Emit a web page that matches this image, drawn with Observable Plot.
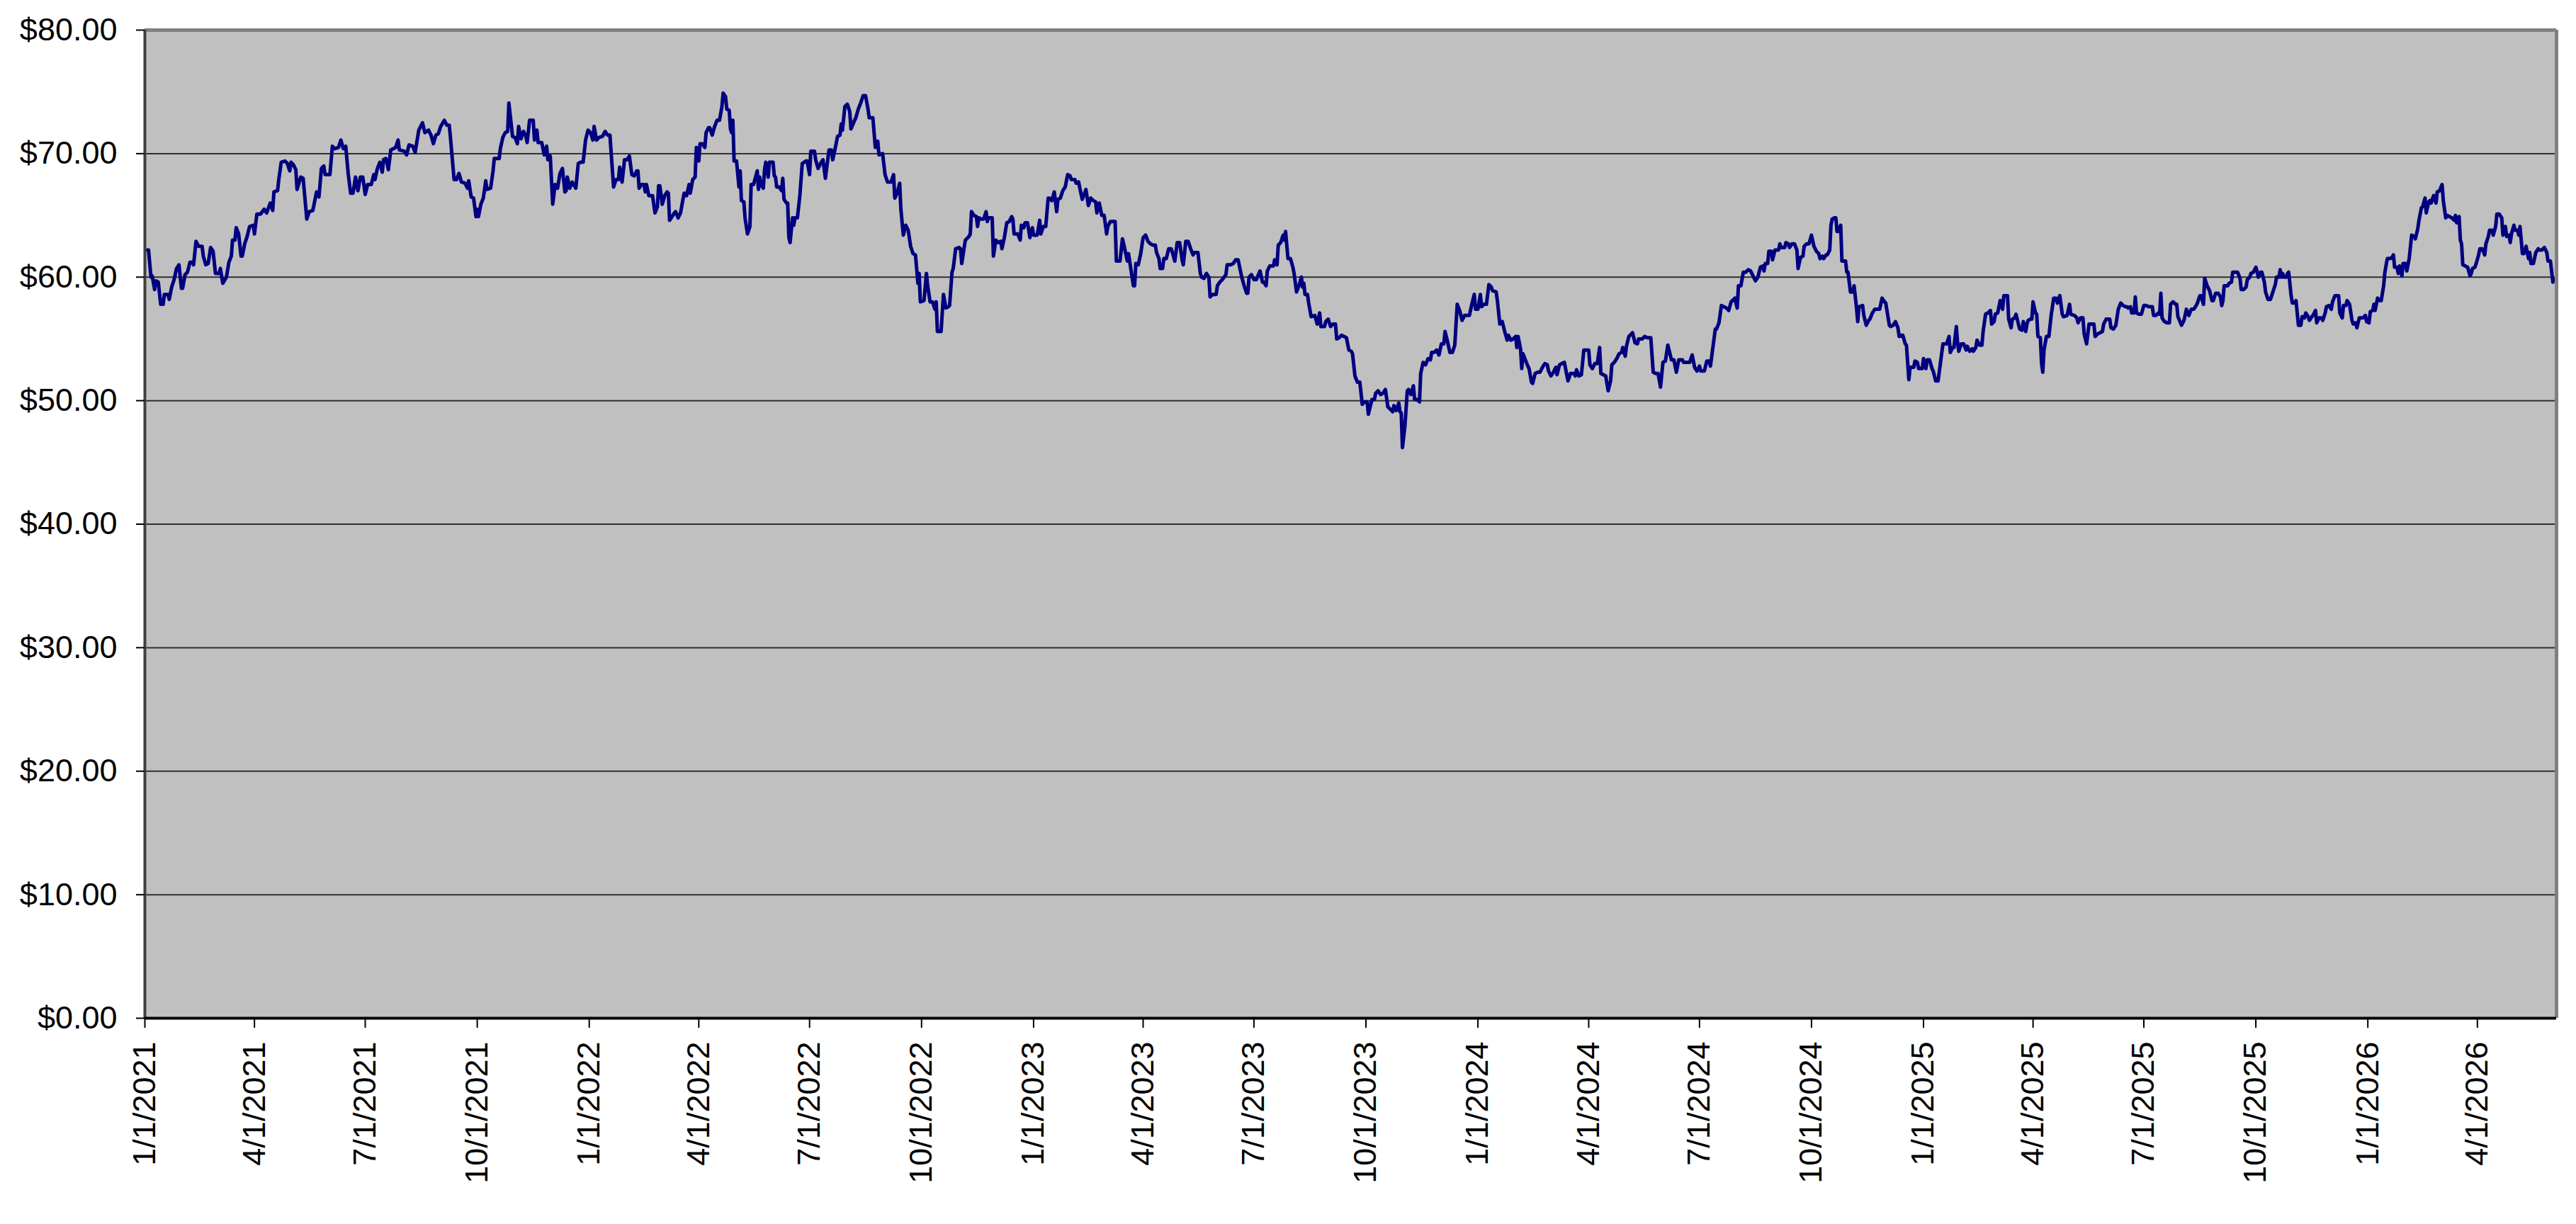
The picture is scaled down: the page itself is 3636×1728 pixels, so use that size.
<!DOCTYPE html>
<html>
<head>
<meta charset="utf-8">
<script src="https://cdn.jsdelivr.net/npm/d3@7"></script>
<script src="https://cdn.jsdelivr.net/npm/@observablehq/plot@0.6"></script>
<style>
  html, body { margin: 0; padding: 0; background: #ffffff; }
  #chart svg { display: block; }
</style>
</head>
<body>
<div id="chart"></div>
<script>
// ---- data ----
const startDate = "2021-01-01";           // day 0 of the series
const xTickLabels = ["1/1/2021","4/1/2021","7/1/2021","10/1/2021","1/1/2022","4/1/2022","7/1/2022","10/1/2022",
  "1/1/2023","4/1/2023","7/1/2023","10/1/2023","1/1/2024","4/1/2024","7/1/2024","10/1/2024",
  "1/1/2025","4/1/2025","7/1/2025","10/1/2025","1/1/2026","4/1/2026"];
const yTicks = [0, 10, 20, 30, 40, 50, 60, 70, 80];

// day offsets from startDate and prices, segment 1 (Jan 2021 - Feb 2022)
const days1 = [2,3,5,6,8,9,11,13,15,16, 19,20,22,24,26,28,30,31,33,35, 37,39,40,42,44,47,48,50,52,54,
  56,58,61,62,64,67,69,71,72,74, 75,77,79,80,82,84,86,89,90,92, 95,98,100,103,105,106,109,110,112,115,
  117,119,120,122,124,125,128,130,133,135, 138,141,143,145,147,148,152,154,156,159,
  161,163,165,167,169,171,173,175,177,179, 181,183,186,188,189,191,193,195,196,198,
  200,202,204,206,208,209,213,215,217,220, 222,225,228,230,233,235,237,239,241,243,
  246,248,250,251,254,256,258,260,263,265, 266,268,270,272,273,274,276,278,280,281,
  284,286,287,291,292,294,296,298,299,300, 302,304,306,307,309,311,313,314,316,319,
  320,322,323,326,328,330,331,333,335,337, 339,341,343,345,346,347,349,351,354,356,
  358,360,362,364,366,368,369,371,373,376, 378,380,382,385,387,389,390,392,394,396,
  398,400,402,404];
const prices1 = [62.2,62.2,60.0,60.1,59.0,59.7,59.6,57.8,57.8,58.6, 58.6,58.2,59.2,59.8,60.7,61.0,59.1,59.1,60.2,60.4,
  61.2,61.2,61.0,62.9,62.5,62.5,61.7,61.0,61.1,62.4, 62.1,60.3,60.3,60.7,59.5,60.0,61.2,61.7,63.0,63.0,
  64.0,63.5,61.7,61.7,62.7,63.3,64.1,64.2,63.5,65.1, 65.1,65.5,65.2,66.0,65.4,66.9,67.0,67.9,69.3,69.4,
  69.2,68.6,69.3,69.1,68.7,67.1,68.1,68.0,64.7,65.3, 65.4,66.9,66.5,68.8,69.0,68.3,68.3,70.6,70.4,70.5,
  71.1,70.4,70.6,68.4,66.8,66.8,68.1,67.0,68.1,68.1, 66.7,67.5,67.5,68.3,67.9,68.8,69.3,68.5,69.5,69.6,
  68.7,70.3,70.4,70.5,71.1,70.3,70.2,69.9,70.7,70.6, 70.1,71.9,72.5,71.7,71.9,71.5,70.8,71.5,71.6,72.2,
  72.7,72.3,72.3,71.3,67.9,67.9,68.4,67.7,67.6,67.2, 67.8,66.5,66.4,64.9,65.5,64.9,65.9,66.4,67.8,67.1,
  67.2,68.6,69.6,69.6,70.4,71.3,71.7,71.8,74.1,73.2, 71.4,71.3,70.8,72.2,71.2,71.8,71.4,70.9,72.7,72.7,
  71.1,71.9,70.9,70.9,69.9,70.6,69.5,69.8,65.9,67.5, 67.2,68.4,68.8,66.9,67.0,68.1,67.2,67.7,67.2,69.2,
  69.3,69.3,71.1,71.9,71.7,71.1,72.2,71.1,71.3,71.4, 71.8,71.5,71.5,67.3,67.9,67.9,68.9,67.7,69.5,69.5,
  69.8,68.3,68.2,68.6];

// segment 2 (Feb 2022 - Mar 2023)
const days2 = [405,406,408,410,411,412,414,417,419,421, 422,423,425,427,429,430,431,433,435,436,
  438,440,442,443,445,447,448,450,452,453, 455,456,458,460,461,463,464,466,468,470,
  472,474,475,477,478,480,481,482,483,484, 486,488,489,490,492,493,495,497,498,500,
  503,504,505,506,508,509,510,512,513,516, 517,518,519,521,523,524,525,527,528,529,
  530,532,533,534,536,538,540,543,544,546, 547,550,551,553,555,557,559,560,562,564,
  565,567,569,571,572,573,575,577,579,580, 583,584,586,588,590,592,594,595,598,600,
  602,603,606,608,610,613,615,616,618,620, 621,623,625,627,629,631,633,635,636,637,
  640,642,643,645,647,649,650,651,654,656, 658,660,661,663,664,666,669,670,671,673,
  674,677,678,679,681,683,684,685,687,689, 691,692,693,696,697,699,701,703,704,706,
  708,710,712,713,714,717,719,720,722,723, 725,727,729,730,733,735,736,738,740,742,
  743,745,747,749,750,752,754,756,758,760, 761,764,765,767,768,770,772,773,775,777,
  779,781,782,784,786,788,790,791,793,795, 797,798,801,803,804,807,808,810,812];
const prices2 = [68.6,67.2,67.5,67.5,66.9,67.5,66.6,66.6,65.2,65.7, 67.4,67.4,65.9,66.6,66.9,66.8,64.6,64.9,65.2,65.3,
  64.8,65.2,66.3,66.8,66.6,67.5,66.8,67.9,68.1,70.5, 69.4,70.8,70.8,70.5,71.7,72.1,72.1,71.5,72.2,72.7,
  72.7,73.8,74.9,74.6,73.6,73.5,72.0,71.7,72.7,69.4, 69.4,67.3,68.6,66.2,66.1,64.8,63.5,64.1,67.5,67.5,
  68.6,67.1,68.1,67.5,67.2,68.7,69.3,68.1,69.3,69.3, 68.2,68.1,67.3,67.3,67.0,68.0,66.3,66.0,66.0,63.2,
  62.8,64.8,64.2,64.8,64.8,66.6,69.2,69.4,69.4,68.3, 70.2,70.2,69.5,68.8,69.2,69.5,68.0,68.8,70.3,70.3,
  69.5,70.4,71.4,71.5,72.4,71.9,73.8,74.0,73.4,72.0, 72.7,72.9,73.6,74.1,74.7,74.7,73.6,72.9,72.9,70.5,
  71.0,69.9,70.0,68.3,67.7,67.7,68.3,66.4,66.8,67.6, 65.5,63.4,64.2,63.8,62.5,61.9,61.8,59.5,60.3,58.0,
  58.1,60.3,59.3,58.0,58.0,57.4,58.0,55.6,55.6,58.6, 57.5,57.6,57.7,60.4,60.7,62.3,62.4,62.3,61.1,62.4,
  63.0,63.3,63.5,65.3,65.0,64.9,64.1,64.8,64.7,64.7, 65.3,64.5,64.8,64.8,61.7,63.0,62.8,62.9,62.3,63.2,
  64.4,64.5,64.9,64.7,63.5,63.5,63.0,64.2,64.0,64.4, 64.4,63.2,64.0,63.4,63.4,64.6,63.5,64.1,64.1,66.4,
  66.4,66.2,66.9,65.3,66.3,66.4,67.0,67.3,68.3,68.2, 67.9,67.9,67.6,67.7,67.2,66.3,66.8,67.1,65.8,66.4,
  66.2,66.1,65.2,66.0,65.0,65.0,63.5,64.1,64.5,64.5, 64.5,61.3,61.3,63.1,62.7,61.3,61.9,60.6,59.3];

// segment 3 (Mar 2023 - May 2024)
const days3 = [813,814,816,818,820,822,824,826,828,830, 831,833,834,836,837,839,841,843,844,846,
  848,850,852,853,855,857,859,861,862,865, 867,868,870,872,874,875,877,880,881,883,
  885,888,889,892,894,896,898,901,903,905, 906,907,909,911,913,916,918,919,921,922,
  924,927,928,930,931,933,935,936,937,939, 941,943,944,946,948,950,951,952,953,955,
  956,958,961,963,965,966,969,970,972,974, 976,978,979,981,983,985,987,989,991,992,
  994,996,998,1000,1002,1004,1005,1008,1010,1011, 1013,1015,1017,1019,1021,1023,1025,1026,1028,1030,
  1031,1032,1033,1035,1037,1038,1040,1042,1043,1045, 1047,1048,1050,1052,1054,1056,1057,1059,1061,1063,
  1065,1067,1068,1070,1072,1074,1076,1078,1080,1082, 1084,1086,1088,1090,1092,1093,1095,1097,1098,1100,
  1102,1104,1106,1107,1110,1111,1113,1115,1117,1119, 1120,1122,1124,1126,1127,1128,1130,1131,1132,1134,
  1136,1137,1139,1140,1142,1144,1146,1148,1150,1152, 1153,1155,1157,1159,1160,1162,1164,1166,1167,1169,
  1171,1174,1175,1176,1178,1180,1182,1184,1186,1187, 1189,1191,1193,1195,1196,1198,1200,1202,1204,1205,
  1207,1209,1211,1213,1214,1216,1217,1219];
const prices3 = [59.3,61.1,61.0,61.9,63.2,63.4,62.9,62.7,62.6,62.6, 62.0,61.5,60.7,60.7,61.5,61.5,62.3,62.3,62.0,61.3,
  62.8,62.8,61.4,61.0,62.9,62.9,62.3,61.8,62.0,62.0, 60.3,60.0,59.9,60.3,60.0,58.4,58.6,58.6,59.3,59.6,
  59.8,60.2,61.0,61.0,61.1,61.4,61.4,60.0,59.3,58.7, 58.7,60.0,60.2,59.8,59.8,60.5,59.6,59.6,59.3,60.5,
  60.9,60.9,61.4,61.0,62.6,62.8,63.4,63.0,63.7,61.5, 61.5,60.8,60.3,58.8,59.3,60.0,59.2,59.5,58.6,58.6,
  57.9,56.8,56.9,56.2,57.1,56.0,56.0,56.4,56.6,56.0, 56.2,56.2,55.0,55.1,55.3,55.2,55.1,54.1,54.0,53.8,
  52.0,51.5,51.5,49.7,49.9,49.9,48.9,50.1,50.1,50.6, 50.8,50.5,50.6,50.9,49.5,49.3,49.1,49.6,49.2,49.8,
  49.1,49.0,46.2,47.9,50.8,50.9,50.5,51.2,50.1,50.1, 49.9,52.2,53.1,52.9,53.4,53.3,53.9,53.9,54.1,53.7,
  54.6,54.6,55.6,54.8,53.9,53.9,54.5,57.8,57.3,56.5, 56.9,56.9,56.9,57.8,58.6,57.4,57.4,58.6,57.6,57.8,
  57.8,59.4,59.2,58.9,58.8,58.1,56.2,56.4,55.6,54.9, 55.3,54.9,55.0,55.2,54.3,55.2,54.2,52.6,53.8,53.3,
  52.8,52.6,51.5,51.4,52.2,52.3,52.3,52.7,53.0,52.9, 52.4,52.0,52.3,52.7,52.1,52.9,53.0,53.1,52.6,51.6,
  52.2,52.2,52.0,52.5,52.0,52.1,54.1,54.1,54.1,52.9, 52.6,53.0,53.0,54.3,52.2,52.1,52.0,50.8,51.6,52.9,
  53.1,53.4,53.8,53.9,54.3,53.6,54.4,55.2];

// segment 4 (May 2024 - Jun 2025)
const days4 = [1220,1222,1224,1226,1227,1230,1232,1234,1237,1239, 1241,1243,1245,1247,1249,1251,1252,1254,1256,1258,
  1260,1263,1264,1267,1269,1271,1273,1275,1277,1278, 1281,1283,1285,1286,1288,1290,1291,1293,1295,1297,
  1299,1301,1303,1304,1306,1308,1309,1311,1313,1315, 1317,1319,1321,1323,1325,1327,1329,1330,1331,1333,
  1334,1336,1337,1339,1342,1343,1344,1347,1348,1350, 1351,1353,1355,1357,1358,1360,1362,1363,1365,1367,
  1369,1371,1373,1375,1376,1378,1379,1381,1382,1384, 1385,1386,1388,1389,1390,1391,1393,1394,1397,1398,
  1399,1401,1403,1404,1406,1407,1408,1411,1412,1414, 1416,1417,1419,1421,1424,1425,1427,1429,1430,1433,
  1434,1436,1438,1440,1441,1443,1444,1446,1447,1449, 1450,1453,1454,1456,1457,1460,1461,1463,1464,1466,
  1468,1469,1471,1473,1475,1477,1479,1480,1482,1483, 1485,1486,1488,1489,1490,1492,1494,1496,1497,1499,
  1501,1502,1504,1505,1507,1509,1510,1512,1514,1516, 1517,1519,1520,1522,1523,1524,1526,1527,1530,1531,
  1533,1534,1536,1537,1538,1540,1542,1543,1545,1546, 1547,1549,1550,1551,1553,1554,1555,1557,1558,1559,
  1560,1562,1564,1566,1568,1570,1571,1573,1575,1576, 1579,1581,1582,1585,1587,1588,1590,1592,1593,1595,
  1597,1599,1601,1602,1604,1606,1608,1609,1611,1614, 1615,1617,1619,1621,1623,1625,1627];
const prices4 = [55.3,55.5,54.7,54.6,55.0,55.0,55.2,55.1,55.1,52.3, 52.2,52.2,51.1,53.1,53.2,54.5,54.1,53.3,53.3,52.3,
  53.3,53.3,53.1,53.1,53.1,53.7,52.7,52.4,52.8,52.4, 52.4,53.2,53.2,52.8,54.3,55.8,55.8,56.3,57.7,57.6,
  57.5,57.3,58.0,58.1,58.3,57.5,59.3,59.3,60.4,60.4, 60.6,60.5,60.1,59.7,60.0,60.8,60.9,60.5,61.1,61.1,
  62.1,62.1,61.4,62.2,62.2,62.7,62.4,62.4,62.8,62.7, 62.4,62.7,62.7,62.2,60.7,61.6,61.7,62.5,62.7,62.7,
  63.4,62.5,62.1,61.9,61.5,61.7,61.5,61.8,61.8,62.2, 64.2,64.7,64.8,64.8,63.7,63.7,64.2,61.3,61.3,60.4,
  60.4,58.8,58.8,59.3,57.5,56.4,57.6,57.7,56.9,56.1, 56.5,56.6,57.1,57.4,57.4,57.4,58.3,58.0,57.9,56.1,
  56.0,56.1,56.4,55.9,55.2,55.3,55.3,54.6,54.5,51.7, 52.7,52.7,53.2,53.1,52.6,52.6,53.4,52.6,53.3,53.3,
  52.6,52.4,51.6,51.6,53.1,54.6,54.6,54.6,55.2,53.9, 54.3,54.3,56.0,54.7,54.0,54.6,54.6,54.1,54.4,54.0,
  54.2,54.0,54.3,54.9,54.5,54.5,55.6,57.0,57.1,57.3, 56.2,56.4,57.0,57.1,57.6,58.1,57.4,58.5,58.5,56.6,
  55.9,56.6,56.7,57.0,56.6,55.8,55.7,56.4,55.6,56.2, 56.5,56.6,56.6,58.0,57.1,57.0,55.2,55.1,53.0,52.3,
  54.1,55.2,55.2,57.0,58.3,58.3,57.9,58.5,57.0,56.8, 56.9,57.8,57.0,56.9,56.7,56.3,56.7,56.7,55.4,54.6,
  56.2,56.2,56.2,55.2,55.4,55.5,55.6,56.2,56.6,56.6, 55.9,55.8,56.1,57.4,57.9,57.7,57.6];

// segment 5 (Jun 2025 - Jun 2026)
const days5 = [1628,1629,1631,1632,1634,1635,1636,1638,1640,1642, 1644,1646,1649,1650,1652,1654,1655,1656,1657,1659,
  1661,1663,1664,1666,1668,1669,1670,1673,1675,1677, 1679,1681,1683,1685,1686,1688,1689,1691,1692,1694,
  1696,1698,1699,1701,1703,1705,1706,1707,1708,1711, 1712,1714,1715,1717,1719,1721,1722,1724,1726,1727,
  1729,1730,1732,1734,1735,1736,1738,1739,1741,1742, 1744,1746,1748,1750,1751,1753,1754,1755,1756,1757,
  1759,1760,1761,1763,1764,1766,1767,1769,1771,1772, 1774,1775,1777,1778,1780,1781,1783,1784,1786,1788,
  1789,1791,1792,1794,1796,1797,1799,1800,1802,1803, 1805,1806,1808,1809,1811,1813,1814,1816,1817,1819,
  1821,1822,1824,1825,1827,1828,1830,1831,1832,1834, 1836,1837,1839,1840,1842,1844,1846,1847,1848,1850,
  1851,1852,1854,1855,1857,1858,1860,1862,1864,1865, 1867,1868,1870,1871,1873,1874,1876,1877,1878,1880,
  1882,1883,1885,1887,1888,1890,1891,1893,1895,1897, 1898,1899,1901,1902,1903,1904,1906,1908,1910,1911,
  1912,1914,1915,1917,1918,1920,1922,1923,1925,1926, 1928,1929,1931,1932,1934,1936,1937,1939,1940,1942,
  1943,1944,1946,1947,1949,1950,1951,1953,1954,1956, 1958,1959,1960,1962,1964,1966,1967,1969,1971,1973,
  1974,1976,1978,1979,1981];
const prices5 = [57.6,57.5,57.6,57.1,57.1,58.4,57.1,57.0,57.0,57.7, 57.7,57.6,57.6,56.9,56.9,57.1,57.0,58.7,56.7,56.4,
  56.3,56.3,57.8,58.0,57.8,57.8,56.8,56.1,56.5,57.4, 56.9,57.4,57.4,57.7,57.9,58.5,58.5,57.8,59.9,59.3,
  58.9,58.1,58.1,58.7,58.7,58.4,57.7,58.1,59.3,59.3, 59.5,59.6,60.4,60.4,60.4,59.9,59.0,59.0,59.2,59.8,
  60.0,60.3,60.4,60.8,60.5,60.0,60.4,60.4,59.6,58.8, 58.2,58.2,58.8,59.4,60.0,60.0,60.6,60.0,60.3,60.0,
  60.0,60.3,60.4,58.5,57.9,57.9,58.1,56.1,56.1,56.8, 56.7,57.1,56.8,56.5,56.8,56.9,57.3,56.3,56.7,56.7,
  56.5,57.1,57.6,57.7,57.4,58.0,58.5,58.5,58.5,57.1, 56.7,57.7,57.7,58.1,57.8,56.5,56.2,56.3,55.9,56.7,
  56.7,56.7,56.9,56.4,56.3,57.2,57.3,57.8,57.3,58.3, 58.1,58.1,59.3,60.4,61.5,61.5,61.6,61.8,60.8,60.8,
  60.3,60.9,60.1,61.1,61.1,60.5,61.5,63.4,63.3,63.1, 63.9,64.6,65.6,65.7,66.4,65.2,66.1,66.2,66.0,66.6,
  66.0,66.9,67.0,67.5,66.2,64.8,65.0,64.9,64.8,64.6, 65.0,64.4,64.9,63.0,62.7,61.0,60.9,60.8,60.1,60.3,
  60.7,60.8,61.1,61.8,62.3,62.3,61.8,62.7,63.3,63.8, 63.8,63.4,64.1,65.1,65.1,64.8,63.4,64.1,63.3,63.4,
  62.8,63.5,64.2,63.8,63.8,63.4,64.1,61.9,61.9,62.5, 61.5,62.0,61.1,61.1,62.0,62.3,62.2,62.2,62.4,62.0,
  61.3,61.3,59.6,59.8,59.8];

// ---- build rows ----
const DAY = 86400000;
const t0 = Date.parse(startDate + "T00:00:00Z");
const segments = [[days1, prices1], [days2, prices2], [days3, prices3], [days4, prices4], [days5, prices5]];
const rows = [];
for (const [ds, ps] of segments) {
  const n = Math.min(ds.length, ps.length);
  if (ds.length !== ps.length) console.warn("length mismatch", ds.length, ps.length);
  for (let i = 0; i < n; i++) rows.push({date: new Date(t0 + ds[i] * DAY), price: ps[i]});
}
const parseMDY = s => { const [m, d, y] = s.split("/").map(Number); return new Date(Date.UTC(y, m - 1, d)); };
const tickDates = xTickLabels.map(parseMDY);
const labelByTime = new Map(tickDates.map((d, i) => [+d, xTickLabels[i]]));
const xStart = new Date(t0);
const xEnd = rows[rows.length - 1].date;

const chart = Plot.plot({
  width: 3636,
  height: 1728,
  marginLeft: 204,
  marginRight: 28,
  marginTop: 42,
  marginBottom: 291,
  style: {background: "#ffffff", color: "#000000", fontFamily: "'Liberation Sans', Arial, sans-serif", fontSize: "45px"},
  x: {type: "utc", domain: [xStart, xEnd]},
  y: {domain: [0, 80]},
  marks: [
    Plot.frame({fill: "#C0C0C0", stroke: "none"}),
    Plot.gridY(yTicks, {stroke: "#000000", strokeOpacity: 0.75, strokeWidth: 2}),
    Plot.line(rows, {x: "date", y: "price", stroke: "#000080", strokeWidth: 5}),
    Plot.ruleY([80], {stroke: "#808080", strokeWidth: 5}),
    Plot.ruleX([xEnd], {stroke: "#808080", strokeWidth: 5}),
    Plot.ruleX([xStart], {stroke: "#404040", strokeWidth: 4}),
    Plot.ruleY([0], {stroke: "#000000", strokeWidth: 4}),
    Plot.axisY(yTicks, {tickFormat: d => "$" + d.toFixed(2), tickSize: 12, tickPadding: 27, label: null, strokeWidth: 2, fontSize: 45}),
    Plot.axisX(tickDates, {tickFormat: d => labelByTime.get(+d), tickRotate: -90, tickSize: 14, tickPadding: 19, label: null, strokeWidth: 2, fontSize: 45})
  ]
});
document.getElementById("chart").appendChild(chart);
</script>
</body>
</html>
